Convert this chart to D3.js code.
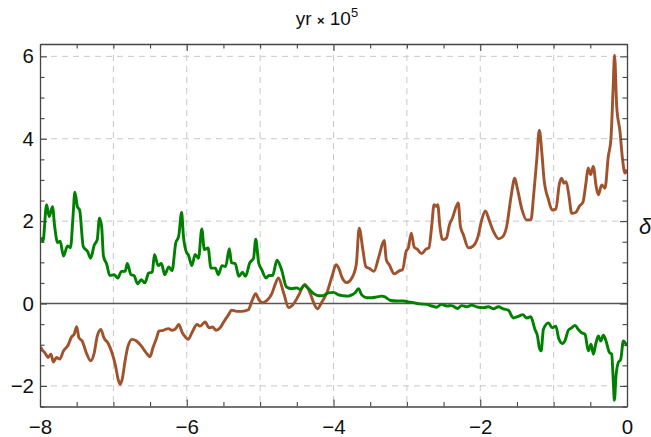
<!DOCTYPE html>
<html><head><meta charset="utf-8">
<script src="https://cdn.jsdelivr.net/npm/d3@7"></script>
<style>body{margin:0;background:#fff}svg{display:block}text{font-family:"Liberation Sans",Arial,sans-serif}</style>
</head><body><div id="c"></div>
<script>
// ---- data ----
const greenX = [-7.99,-7.96,-7.91,-7.875,-7.83,-7.80,-7.76,-7.725,-7.68,-7.625,-7.585,-7.55,-7.525,-7.49,-7.46,-7.41,-7.35,-7.31,-7.26,-7.22,-7.19,-7.16,-7.135,-7.09,-7.05,-6.99,-6.94,-6.89,-6.84,-6.81,-6.76,-6.72,-6.67,-6.62,-6.57,-6.52,-6.47,-6.44,-6.39,-6.345,-6.30,-6.245,-6.20,-6.15,-6.11,-6.07,-6.045,
 -6.00,-5.98,-5.93,-5.886,-5.84,-5.795,-5.76,-5.71,-5.67,-5.61,-5.57,-5.52,-5.47,-5.42,-5.39,-5.34,-5.29,-5.24,-5.20,-5.14,-5.09,-5.06,-5.02,-4.98,-4.92,-4.88,-4.83,-4.77,-4.71,
 -4.64,-4.57,-4.50,-4.455,-4.40,-4.34,-4.27,-4.206,-4.14,-4.07,-4.00,-3.93,-3.865,-3.80,-3.75,-3.706,-3.66,-3.615,-3.547,-3.48,-3.41,-3.343,-3.298,-3.23,-3.14,-3.048,-2.98,-2.91,-2.82,-2.73,-2.66,-2.594,-2.53,-2.457,-2.39,-2.31,-2.253,-2.185,-2.117,-2.05,-1.958,-1.89,-1.82,-1.753,-1.685,-1.617,-1.55,-1.48,-1.42,-1.367,-1.313,-1.254,-1.22,-1.195,-1.17,
 -1.14,-1.07,-1.02,-0.97,-0.93,-0.88,-0.845,-0.80,-0.754,-0.708,-0.663,-0.618,-0.572,-0.527,-0.49,-0.458,-0.422,-0.39,-0.358,-0.322,-0.286,-0.24,-0.209,-0.186,-0.172,-0.15,-0.118,-0.086,-0.05,0];
const greenY = [1.60,1.51,2.40,2.11,2.35,1.87,1.48,1.51,1.15,1.40,1.35,2.11,2.70,2.35,2.27,1.38,1.26,1.10,1.42,1.55,2.07,1.87,1.15,0.95,0.68,0.70,0.62,0.78,0.78,0.97,0.70,0.68,0.48,0.58,0.50,0.74,0.76,1.19,0.92,0.97,0.70,0.89,0.80,1.47,1.63,2.21,1.63,
 1.23,1.19,0.92,1.19,1.10,1.81,1.31,1.35,0.86,0.86,0.70,0.92,0.90,1.33,0.99,0.97,0.66,0.76,0.66,0.99,1.10,1.56,0.99,0.83,0.62,0.68,0.68,1.05,0.83,
 0.40,0.36,0.38,0.34,0.44,0.36,0.24,0.19,0.19,0.26,0.27,0.21,0.19,0.18,0.21,0.26,0.36,0.21,0.14,0.14,0.16,0.18,0.16,0.08,0.06,0.06,0.04,0.02,-0.01,-0.02,-0.06,-0.09,-0.02,-0.06,-0.05,-0.12,-0.05,-0.08,-0.04,-0.08,-0.10,-0.08,-0.13,-0.08,-0.13,-0.16,-0.35,-0.31,-0.27,-0.35,-0.32,-0.63,-0.79,-1.07,-1.15,
 -0.63,-0.47,-0.59,-0.55,-0.85,-0.97,-0.90,-0.65,-0.59,-0.53,-0.63,-0.71,-0.75,-1.15,-0.99,-1.23,-0.95,-0.79,-0.91,-0.77,-0.91,-1.19,-1.23,-1.92,-2.35,-1.76,-1.43,-1.36,-0.91,-1.03];

const brownX = [-7.99,-7.98,-7.935,-7.89,-7.85,-7.82,-7.775,-7.73,-7.68,-7.62,-7.57,-7.535,-7.50,-7.47,-7.425,-7.37,-7.31,-7.26,-7.22,-7.17,-7.13,-7.07,-7.02,-6.97,-6.935,-6.91,-6.88,-6.84,-6.80,-6.745,-6.685,-6.62,-6.56,-6.50,-6.46,-6.41,-6.38,-6.32,-6.25,-6.20,-6.15,-6.11,-6.06,
 -6.02,-5.98,-5.93,-5.86,-5.82,-5.75,-5.695,-5.65,-5.60,-5.545,-5.49,-5.43,-5.39,-5.32,-5.25,-5.16,-5.11,-5.06,-5.02,-4.97,-4.91,-4.84,-4.79,-4.75,
 -4.68,-4.61,-4.55,-4.48,-4.39,-4.32,-4.27,-4.22,-4.16,-4.09,-4.02,-3.965,-3.92,-3.89,-3.82,-3.75,-3.69,-3.65,-3.60,-3.56,-3.50,-3.45,-3.38,-3.31,-3.28,-3.24,-3.17,-3.10,-3.06,-3.01,-2.98,-2.94,-2.90,-2.86,-2.80,-2.74,-2.70,-2.66,-2.63,-2.60,-2.58,-2.55,-2.52,-2.50,-2.46,-2.42,-2.38,-2.30,-2.27,-2.23,-2.16,-2.10,-2.03,-1.98,-1.93,-1.88,-1.82,-1.75,-1.69,-1.64,-1.58,-1.53,-1.50,-1.43,-1.37,-1.31,-1.27,-1.23,-1.195,-1.16,-1.13,-1.07,-1.02,-0.97,-0.92,-0.89,-0.86,-0.83,-0.79,-0.754,-0.70,-0.65,-0.60,-0.56,-0.53,-0.495,-0.46,-0.42,-0.39,-0.345,-0.30,-0.255,-0.22,-0.19,-0.17,-0.14,-0.095,-0.06,-0.027,0];
const brownY = [-1.05,-1.10,-1.19,-1.31,-1.23,-1.42,-1.31,-1.35,-1.15,-1.02,-0.81,-0.75,-0.56,-0.83,-0.91,-1.19,-1.39,-1.19,-0.79,-0.63,-0.83,-0.97,-1.19,-1.52,-1.84,-1.96,-1.84,-1.39,-1.03,-0.87,-0.91,-1.03,-1.18,-1.29,-1.07,-0.83,-0.67,-0.65,-0.61,-0.65,-0.61,-0.51,-0.71,
 -0.81,-0.87,-0.71,-0.51,-0.55,-0.45,-0.59,-0.57,-0.65,-0.59,-0.43,-0.27,-0.16,-0.19,-0.19,-0.15,0.07,0.24,0.10,0.02,0.07,0.24,0.49,0.62,
 0.26,-0.10,-0.02,0.18,0.46,0.26,0.02,-0.13,0.03,0.26,0.66,0.94,0.82,0.66,0.51,0.62,0.94,1.83,1.31,0.90,0.84,0.78,1.15,1.53,1.06,0.94,0.72,0.80,0.82,1.27,1.35,1.71,1.37,1.32,1.21,1.32,1.35,1.91,2.40,2.36,2.40,1.87,1.57,1.55,1.59,1.91,2.07,2.44,1.87,1.67,1.35,1.39,1.63,2.03,2.25,2.03,1.75,1.57,1.63,1.87,2.60,3.04,2.84,2.27,2.03,2.03,2.68,3.49,4.21,3.65,3.00,2.52,2.27,2.29,2.92,3.04,2.92,2.96,2.60,2.19,2.21,2.36,2.46,2.92,3.29,3.13,3.33,2.84,2.64,2.88,2.80,3.57,3.97,5.18,6.03,4.78,4.17,3.49,3.17,3.25];

const xMajor = [-8,-6,-4,-2,0];
const yMajor = [-2,0,2,4,6];
const xGrid = [-7,-6,-5,-4,-3,-2,-1];
const yGrid = [-2,2,4,6];

// ---- drawing ----
const W = 651, H = 437;
const L = 40, R = 627, T = 44, B = 406.5;
const svg = d3.select("#c").append("svg").attr("width", W).attr("height", H);
const x = d3.scaleLinear().domain([-8, 0]).range([L, R]);
const y = d3.scaleLinear().domain([-2.5, 6.3]).range([B, T]);

const g = svg.append("g");
g.selectAll(".gx").data(xGrid).join("line")
  .attr("x1", d => x(d)).attr("x2", d => x(d)).attr("y1", T).attr("y2", B)
  .attr("stroke", "#c8c8c8").attr("stroke-width", 1).attr("stroke-dasharray", "6,5");
g.selectAll(".gy").data(yGrid).join("line")
  .attr("y1", d => y(d)).attr("y2", d => y(d)).attr("x1", L).attr("x2", R)
  .attr("stroke", "#c8c8c8").attr("stroke-width", 1).attr("stroke-dasharray", "6,5");
g.append("line").attr("x1", L).attr("x2", R).attr("y1", y(0)).attr("y2", y(0))
  .attr("stroke", "#555").attr("stroke-width", 1.6);

svg.append("clipPath").attr("id", "cp").append("rect")
  .attr("x", L).attr("y", T).attr("width", R - L).attr("height", B - T);

const line = d3.line().x(d => x(d[0])).y(d => y(d[1])).curve(d3.curveMonotoneX);
const green = d3.zip(greenX, greenY);
const brown = d3.zip(brownX, brownY);
const lg = svg.append("g").attr("clip-path", "url(#cp)");
lg.append("path").datum(brown).attr("d", line).attr("fill", "none")
  .attr("stroke", "#a0522d").attr("stroke-width", 2.9).attr("stroke-linejoin", "round");
lg.append("path").datum(green).attr("d", line).attr("fill", "none")
  .attr("stroke", "#008000").attr("stroke-width", 2.9).attr("stroke-linejoin", "round");

const xt = d3.range(-8, 0.001, 0.5), yt = d3.range(-2.5, 6.301, 0.5);
const isMaj = d => Math.abs(d / 2 - Math.round(d / 2)) < 1e-6;
const fmt = d => d3.format("d")(d);
const axB = d3.axisBottom(x).tickValues(xt).tickSizeOuter(0).tickFormat(d => isMaj(d) ? fmt(d) : "");
const axT = d3.axisTop(x).tickValues(xt).tickSizeOuter(0).tickFormat("");
const axL = d3.axisLeft(y).tickValues(yt).tickSizeOuter(0).tickFormat(d => (isMaj(d) && d >= -2) ? fmt(d) : "");
const axR = d3.axisRight(y).tickValues(yt).tickSizeOuter(0).tickFormat("");

function style(sel, dir) {
  sel.select(".domain").attr("stroke", "#444").attr("stroke-width", 1.3);
  sel.selectAll(".tick line").attr("stroke", "#444").attr("stroke-width", 1.1)
    .each(function(d){
      const len = isMaj(d) ? 7 : 4.5;
      const el = d3.select(this);
      if (dir === "b") el.attr("y2", -len);
      if (dir === "t") el.attr("y2", len);
      if (dir === "l") el.attr("x2", len);
      if (dir === "r") el.attr("x2", -len);
    });
  sel.selectAll(".tick text").attr("fill", "#111").style("font-size", "20.5px");
}
svg.append("g").attr("transform", `translate(0,${B})`).call(axB)
  .call(s => style(s, "b")).call(s => s.selectAll(".tick text").attr("dy", null).attr("y", 27));
svg.append("g").attr("transform", `translate(0,${T})`).call(axT).call(s => style(s, "t"));
svg.append("g").attr("transform", `translate(${L},0)`).call(axL)
  .call(s => style(s, "l")).call(s => s.selectAll(".tick text").attr("x", -6));
svg.append("g").attr("transform", `translate(${R},0)`).call(axR).call(s => style(s, "r"));

const tt = svg.append("text").attr("x", 327).attr("y", 25).attr("text-anchor", "middle")
  .style("font-size", "19px").attr("fill", "#111");
tt.append("tspan").text("yr ");
tt.append("tspan").text("×").style("font-size", "13px").style("font-weight", "bold");
tt.append("tspan").text(" 10");
tt.append("tspan").text("5").attr("dy", -8).style("font-size", "13px");

svg.append("text").attr("x", 645).attr("y", 234).attr("text-anchor", "middle")
  .style("font-size", "22px").style("font-style", "italic").attr("fill", "#111").text("δ");
</script></body></html>
